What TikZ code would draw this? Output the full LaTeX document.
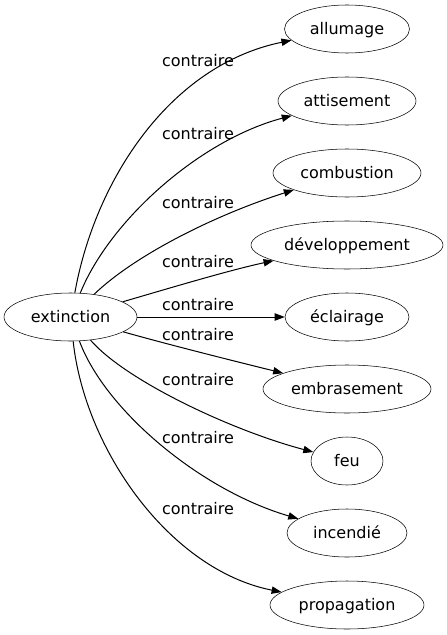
\documentclass[tikz,border=0pt]{standalone}
\usepackage{fontspec}
\setmainfont{DejaVu Sans}
\usetikzlibrary{arrows.meta,shapes.geometric}

\begin{document}
\begin{tikzpicture}[x=0.75pt, y=-0.75pt, node distance=54pt,
		word/.style={draw, ellipse, inner sep=0pt, minimum height=36pt, text height=11pt, text depth=2.4pt},
		rel/.style={inner sep=0pt},
		contra/.style={-{Triangle[length=7.5pt,width=5.5pt]}, line width=0.75pt},
		font=\fontsize{12}{14}\selectfont]
		\useasboundingbox (0,0) rectangle (446,635);
		\node(extinction)[word, minimum width=99.75pt] at (70.5,317){extinction};
		\node(allumage)[word, minimum width=93.75pt] at (347,29){allumage};
		\node(attisement)[word, minimum width=103.5pt, below of=allumage]{attisement};
		\node(combustion)[word, minimum width=111pt, below of=attisement]{combustion};
		\node(developpement)[word, minimum width=144pt, below of=combustion]{développement};
		\node(eclairage)[word, minimum width=93pt, below of=developpement]{éclairage};
		\node(embrasement)[word, minimum width=126pt, below of=eclairage]{embrasement};
		\node(feu)[word, minimum width=54pt, below of=embrasement]{feu};
		\node(incendie)[word, minimum width=90pt, below of=feu]{incendié};
		\node(propagation)[word, minimum width=115.5pt, below of=incendie]{propagation};
		\node(r1)[rel] at (198,61){contraire};
		\node(r2)[rel] at (198,134){contraire};
		\node(r3)[rel] at (198,203){contraire};
		\node(r4)[rel] at (198,262){contraire};
		\node(r5)[rel] at (198,305){contraire};
		\node(r6)[rel] at (198,335){contraire};
		\node(r7)[rel] at (198,380){contraire};
		\node(r8)[rel] at (198,438){contraire};
		\node(r9)[rel] at (198,509){contraire};
		\draw[contra](extinction) .. controls (95,180) and (170,65) .. (allumage);
		\draw[contra](extinction) .. controls (110,220) and (200,140) .. (attisement);
		\draw[contra](extinction) .. controls (135,255) and (215,215) .. (combustion);
		\draw[contra](extinction) .. controls (170,288) and (230,270) .. (developpement);
		\draw[contra](extinction) -- (eclairage);
		\draw[contra](extinction) .. controls (170,345) and (230,360) .. (embrasement);
		\draw[contra](extinction) .. controls (125,380) and (230,430) .. (feu);
		\draw[contra](extinction) .. controls (105,410) and (200,490) .. (incendie);
		\draw[contra](extinction) .. controls (85,450) and (170,570) .. (propagation);
	\end{tikzpicture}
\end{document}
